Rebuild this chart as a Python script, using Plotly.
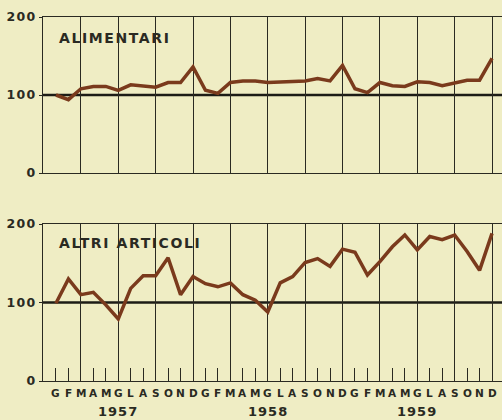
import numpy as np
import plotly.graph_objects as go

# ---- data ----
month_letters = ["G", "F", "M", "A", "M", "G", "L", "A", "S", "O", "N", "D"]
years = ["1957", "1958", "1959"]
alimentari = [100, 94, 108, 111, 111, 106, 113, 111, 110, 116, 116, 136,
              106, 102, 116, 118, 118, 116, 117, 117, 118, 121, 118, 138,
              108, 103, 116, 112, 111, 117, 116, 112, 115, 119, 119, 147]
altri_articoli = [99, 130, 110, 113, 97, 79, 118, 134, 134, 157, 110, 133,
                  124, 120, 125, 110, 103, 88, 125, 133, 151, 156, 146, 168,
                  164, 135, 152, 171, 186, 167, 184, 180, 186, 165, 141, 188]
panel_titles = ["ALIMENTARI", "ALTRI ARTICOLI"]
y_ticks = [0, 100, 200]
BASE = 100

n = len(alimentari)
x = np.arange(n)
labels = [month_letters[i % 12] for i in range(n)]
grid_months = [i for i in range(n) if i % 3 == 2]

# ---- style ----
BG = "#efedc4"
INK = "#2a2a22"
LINE = "#7a3a1c"
FONT = "DejaVu Sans"
W, H = 502, 420
XR = [-1.04, 35.8]


def spaced(t, px):
    return f"<span style='letter-spacing:{px}px'>{t}</span>"


fig = go.Figure()
fig.add_trace(go.Scatter(x=x, y=alimentari, mode="lines", xaxis="x", yaxis="y",
                         line=dict(color=LINE, width=3.5), showlegend=False))
fig.add_trace(go.Scatter(x=x, y=altri_articoli, mode="lines", xaxis="x2", yaxis="y2",
                         line=dict(color=LINE, width=3.5), showlegend=False))

xdom = [43 / W, 1.0]
ydom_top = [1 - 173 / H, 1 - 17 / H]
ydom_bot = [1 - 381 / H, 1 - 224 / H]

common_y = dict(range=[0, 200], tickvals=y_ticks,
                ticktext=[f"<b>{spaced(v, 1.2)}</b>" for v in y_ticks],
                showgrid=False, zeroline=False, automargin=False,
                showline=True, linecolor=INK, linewidth=1.4, ticks="outside",
                ticklen=3, tickcolor=INK,
                tickfont=dict(family=FONT, size=12.5, color=INK))

fig.update_layout(
    width=W, height=H, margin=dict(l=0, r=0, t=0, b=0, pad=0, autoexpand=False),
    paper_bgcolor=BG, plot_bgcolor=BG,
    xaxis=dict(domain=xdom, range=XR, anchor="y", tickvals=grid_months,
               showgrid=True, gridcolor=INK, gridwidth=1, showticklabels=False,
               ticks="", zeroline=False, showline=True, mirror=True, automargin=False,
               linecolor=INK, linewidth=1.4),
    yaxis=dict(domain=ydom_top, anchor="x", **common_y),
    xaxis2=dict(domain=xdom, range=XR, anchor="y2", tickvals=grid_months,
                showgrid=True, gridcolor=INK, gridwidth=1, showticklabels=False,
                ticks="inside", ticklen=13, tickcolor=INK, tickwidth=1,
                minor=dict(tickvals=list(x), ticks="inside", ticklen=13,
                           tickcolor=INK, tickwidth=1, showgrid=False),
                zeroline=False, showline=True, mirror=True, automargin=False,
                linecolor=INK, linewidth=1.4),
    yaxis2=dict(domain=ydom_bot, anchor="x2", **common_y),
)

shapes = []
for yref in ["y", "y2"]:
    xr = "x domain" if yref == "y" else "x2 domain"
    shapes.append(dict(type="line", xref=xr, yref=yref, x0=0, x1=1, y0=BASE, y1=BASE,
                       line=dict(color="#1c1c16", width=2.6), layer="below"))
fig.update_layout(shapes=shapes)

ann = []
ann.append(dict(text=f"<b>{spaced(panel_titles[0], 1.6)}</b>", xref="paper", yref="paper",
                x=57 / W, y=1 - 38 / H, xanchor="left", yanchor="middle", showarrow=False,
                font=dict(family=FONT, size=14, color=INK)))
ann.append(dict(text=f"<b>{spaced(panel_titles[1], 1.6)}</b>", xref="paper", yref="paper",
                x=57 / W, y=1 - 243 / H, xanchor="left", yanchor="middle", showarrow=False,
                font=dict(family=FONT, size=14, color=INK)))
for i, lab in enumerate(labels):
    ann.append(dict(text=f"<b>{lab}</b>", xref="x2", yref="paper", x=x[i], y=1 - 393 / H,
                    xanchor="center", yanchor="middle", showarrow=False,
                    font=dict(family=FONT, size=10.5, color=INK)))
for j, yr in enumerate(years):
    ann.append(dict(text=f"<b>{spaced(yr, 1)}</b>", xref="x2", yref="paper", x=12 * j + 5.0,
                    y=1 - 411 / H, xanchor="center", yanchor="middle", showarrow=False,
                    font=dict(family=FONT, size=13, color=INK)))
fig.update_layout(annotations=ann)

fig.write_html("out.html", config={"displayModeBar": False},
               post_script="document.body.style.margin='0';document.body.style.overflow='hidden';")
